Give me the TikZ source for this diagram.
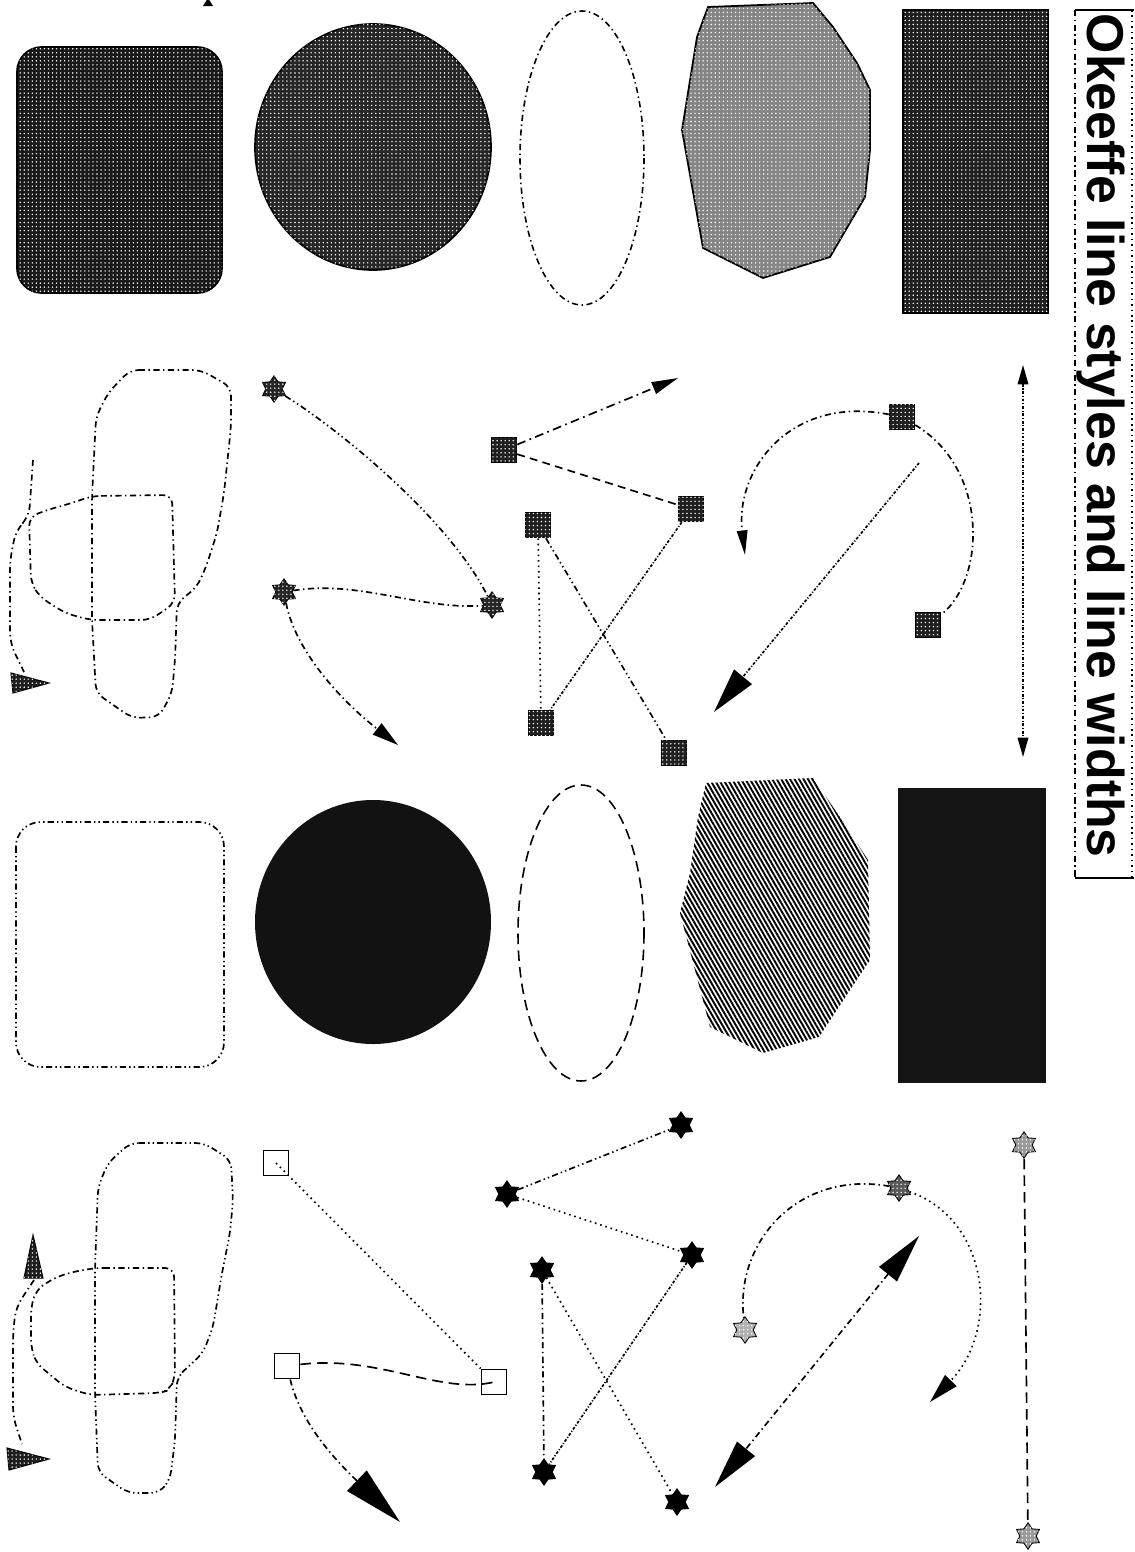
\documentclass[tikz,border=0pt]{standalone}
\usepackage{fontspec}
\newfontfamily\titlefont{Liberation Sans}
\usetikzlibrary{arrows.meta,shapes.geometric,patterns.meta}
\begin{document}
\begin{tikzpicture}[x=0.02cm,y=-0.02cm, line width=0.95pt,
  dd/.style={dash pattern=on 3.5pt off 2pt on 0.8pt off 2pt},
  ldd/.style={dash pattern=on 5pt off 2.5pt on 1pt off 2.5pt},
  dddot/.style={dash pattern=on 3.5pt off 1.8pt on 0.8pt off 1.8pt on 0.8pt off 1.8pt},
  dotl/.style={dash pattern=on 0.9pt off 2.2pt},
  ldash/.style={dash pattern=on 6pt off 3.5pt},
  mdash/.style={dash pattern=on 4.5pt off 3pt},
  fined/.style={dash pattern=on 1.6pt off 1pt on 0.6pt off 1pt},
  ht/.style={fill=#1, postaction={pattern={Dots[radius=0.45pt,distance=2.3pt]}, pattern color=white}},
  sq/.style={rectangle, draw=black, ht=black!88, minimum size=14.5pt, inner sep=0pt, line width=0.6pt, solid},
  osq/.style={rectangle, draw=black, fill=white, minimum size=14.5pt, inner sep=0pt, line width=0.8pt, solid},
  stt/.style={star, star points=6, star point ratio=1.6, minimum size=15pt, inner sep=0pt, draw=black, line width=0.5pt, solid}
]
\useasboundingbox (0,0) rectangle (1134,1552);
\fill[white] (0,0) rectangle (1134,1552);
\clip (0,0) rectangle (1134,1552);

% ---------- top row of filled shapes ----------
\path[draw=black, ht=black!90, rounded corners=14pt] (17,47) rectangle (222,293);
\path[draw=black, ht=black!85] (373,147) ellipse [x radius=118, y radius=123];
\draw[dd, line width=0.9pt] (582,158) ellipse [x radius=62, y radius=147];
\path[draw=black, line width=1pt, ht=black!48] (708,7) -- (813,3) -- (833,27) -- (857,63) -- (870,90) -- (870,150) -- (865,197) -- (830,257) -- (763,278) -- (703,248) -- (682,130) -- (697,37) -- cycle;
\path[draw=black, ht=black!88] (903,10) rectangle (1048,313);

% ---------- title box ----------
\draw[line width=0.9pt] (1075,10) -- (1134,10);
\draw[line width=0.9pt] (1075,878) -- (1134,878);
\draw[dd, line width=0.9pt] (1075,10) -- (1075,878);
\draw[dotl, line width=0.7pt] (1132,10) -- (1132,878);
\node[rotate=-90, anchor=base west, inner sep=0pt, font=\titlefont\bfseries\fontsize{29.5}{35}\selectfont] (title) at (1087,13) {Okeeffe line styles and line widths};

% ---------- second row of shapes ----------
\draw[dddot, rounded corners=14pt] (16,822) rectangle (224,1067);
\fill[black!93] (373,922) ellipse [x radius=118, y radius=122];
\draw[ldash, line width=0.9pt] (581,933) ellipse [x radius=63, y radius=148];
\path[pattern={Lines[angle=-60,distance=2.2pt,line width=1.1pt]}, pattern color=black] (706,783) -- (813,778) -- (844,823) -- (868,860) -- (870,960) -- (852,987) -- (819,1037) -- (763,1053) -- (710,1027) -- (680,913) -- (690,873) -- (698,817) -- cycle;
\fill[black!92] (898,788) rectangle (1046,1083);

% truncated arrow tip at the top edge
\fill (203,6) -- (213,6) -- (208,-2) -- cycle;

% ---------- top-left group of closed curves ----------
\draw[dd, rounded corners=5pt] (130,370) -- (201,370) -- (231,387) -- (231,427) -- (224,493) -- (217,533) -- (206,567) -- (197,587) -- (177,603) -- (175,660) -- (172,693) -- (159,717) -- (132,718) -- (96,693) -- (92,620) -- (92,497) -- (96,417) -- (108,393) -- cycle;
\draw[dd, rounded corners=5pt] (92,496) -- (172,495) -- (175,603) -- (150,620) -- (90,620) -- (65,613) -- (40,597) -- (31,583) -- (29,517) -- (47,510) -- (72,503) -- cycle;
\coordinate (c1) at (33,460);
\coordinate (c2) at (24,672);
\draw[dd, rounded corners=6pt] (c1) -- (29,517) -- (16,530) -- (10,560) -- (10,643) -- (c2);
\path[draw=black, line width=0.6pt, ht=black!88] (11,673) -- (13,693) -- (49,683) -- cycle;

% ---------- bottom-left group of closed curves ----------
\draw[dddot, rounded corners=5pt] (130,1143) -- (204,1143) -- (231,1160) -- (233,1200) -- (230,1233) -- (222,1273) -- (213,1327) -- (203,1353) -- (188,1367) -- (177,1377) -- (175,1440) -- (170,1480) -- (159,1493) -- (128,1493) -- (98,1472) -- (95,1393) -- (95,1268) -- (98,1187) -- (108,1163) -- cycle;
\draw[dd, rounded corners=5pt] (95,1268) -- (174,1268) -- (175,1377) -- (170,1390) -- (159,1393) -- (90,1395) -- (65,1387) -- (36,1363) -- (31,1347) -- (31,1307) -- (36,1290) -- (54,1278) -- (72,1272) -- cycle;
\coordinate (c3) at (34,1280);
\coordinate (c4) at (22,1444);
\draw[dd, rounded corners=6pt] (c3) -- (16,1307) -- (13,1333) -- (13,1417) -- (c4);
\path[draw=black, line width=0.6pt, ht=black!88] (24,1278) -- (43,1278) -- (33,1235) -- cycle;
\path[draw=black, line width=0.6pt, ht=black!88] (7,1448) -- (9,1470) -- (49,1459) -- cycle;

% ---------- top-middle: filled squares ----------
\node[sq] (S1) at (504,450) {};
\node[sq] (S2) at (691,509) {};
\node[sq] (S3) at (538,525) {};
\node[sq] (S4) at (902,417) {};
\node[sq] (S5) at (928,625) {};
\node[sq] (S6) at (541,723) {};
\node[sq] (S7) at (674,753) {};
\coordinate (a1) at (678,378);
\coordinate (a2) at (745,555);
\coordinate (d1) at (919,463);
\coordinate (d2) at (714,712);
\coordinate (e1) at (1023,365);
\coordinate (e2) at (1023,757);
\draw[ldd, -{Triangle[length=15pt,width=7pt]}] (S1) -- (a1);
\draw[mdash] (S1) -- (S2);
\draw[dotl] (S3) -- (S6);
\draw[dddot] (S3) -- (S7);
\draw[fined] (S2) -- (S6);
\draw[dd, -{Triangle[length=14pt,width=6pt]}] (S4) .. controls (790,395) and (735,470) .. (a2);
\draw[dd] (S4) .. controls (990,470) and (985,580) .. (S5);
\draw[fined, -{Triangle[length=26pt,width=13pt]}] (d1) -- (d2);
\draw[fined, {Triangle[length=11pt,width=6pt]}-{Triangle[length=11pt,width=6pt]}] (e1) -- (e2);

% ---------- top-middle: stars ----------
\node[stt, ht=black!85] (T1) at (274,389) {};
\node[stt, ht=black!85] (T2) at (284,592) {};
\node[stt, ht=black!85] (T3) at (492,605) {};
\coordinate (a3) at (398,745);
\draw[dddot] (T1) .. controls (340,430) and (450,520) .. (T3);
\draw[dd] (T2) .. controls (360,580) and (420,610) .. (T3);
\draw[dd, -{Triangle[length=15pt,width=8pt]}] (T2) .. controls (295,650) and (340,700) .. (a3);

% ---------- bottom-middle: open squares ----------
\node[osq] (Q1) at (276,1163) {};
\node[osq] (Q2) at (287,1366) {};
\node[osq] (Q3) at (494,1382) {};
\coordinate (a4) at (400,1522);
\draw[dotl] (Q1.center) -- (Q3);
\draw[ldash] (Q2) .. controls (380,1355) and (440,1395) .. (Q3.center);
\draw[dd, -{Triangle[length=34pt,width=16pt]}] (Q2) .. controls (300,1420) and (330,1455) .. (a4);

% ---------- bottom-middle: stars ----------
\node[stt, fill=black] (U1) at (681,1125) {};
\node[stt, fill=black] (U2) at (507,1194) {};
\node[stt, fill=black] (U3) at (692,1255) {};
\node[stt, fill=black] (U4) at (542,1270) {};
\node[stt, fill=black] (U5) at (544,1472) {};
\node[stt, fill=black] (U6) at (677,1502) {};
\node[stt, ht=black!65] (V1) at (899,1188) {};
\node[stt, ht=black!30] (V2) at (745,1330) {};
\node[stt, ht=black!40] (W1) at (1024,1145) {};
\node[stt, ht=black!40] (W2) at (1028,1536) {};
\coordinate (a5) at (930,1402);
\coordinate (b1) at (919,1236);
\coordinate (b2) at (715,1487);
\draw[dddot] (U2) -- (U1);
\draw[dotl] (U2) -- (U3);
\draw[dd] (U4) -- (U5);
\draw[dotl] (U4) -- (U6);
\draw[fined] (U3) -- (U5);
\draw[dd] (V1) .. controls (800,1170) and (735,1240) .. (V2);
\draw[dotl, -{Triangle[length=17pt,width=9pt]}] (V1) .. controls (990,1220) and (1000,1330) .. (a5);
\draw[dd, {Triangle[length=28pt,width=13pt]}-{Triangle[length=28pt,width=13pt]}] (b1) -- (b2);
\draw[ldash] (W1) -- (W2);
\end{tikzpicture}
\end{document}
